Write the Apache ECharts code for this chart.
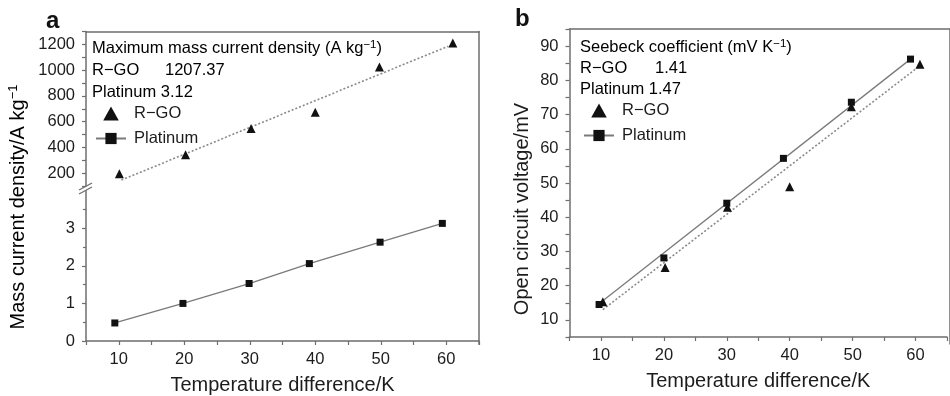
<!DOCTYPE html>
<html>
<head>
<meta charset="utf-8">
<script src="https://cdn.jsdelivr.net/npm/echarts@6/dist/echarts.min.js"></script>
<style>html,body{margin:0;padding:0;background:#fff}#c{width:950px;height:396px}</style>
</head>
<body>
<div id="c"></div>
<script>
// ---- data ----
const seriesNames = ['R−GO', 'Platinum'];
// panel a: mass current density
const aRgoX = [10.1, 20.2, 30.2, 40.0, 49.8, 61.0];
const aRgoY = [195, 343, 547, 672, 1024, 1210];
const aRgoFitX = [10.4, 60.3];
const aRgoFitY = [146, 1186];
const aPtX = [9.4, 19.8, 29.9, 39.1, 49.9, 59.4];
const aPtY = [0.48, 1.00, 1.53, 2.06, 2.63, 3.13];
// panel b: open circuit voltage
const bRgoX = [10.3, 20.2, 30.1, 40.0, 49.8, 60.7];
const bRgoY = [15.3, 25.3, 42.9, 48.9, 72.3, 84.7];
const bRgoFitX = [10.3, 60.5];
const bRgoFitY = [13.0, 84.0];
const bPtX = [9.7, 20.0, 30.0, 39.0, 49.8, 59.2];
const bPtY = [14.5, 28.1, 44.1, 57.2, 73.6, 86.2];
const bPtFitX = [9.9, 59.2];
const bPtFitY = [15.0, 86.2];
// annotation values
const aHeader = 'Maximum mass current density (A kg';
const aValues = [['R−GO', '1207.37'], ['Platinum', '3.12']];
const bHeader = 'Seebeck coefficient (mV K';
const bValues = [['R−GO', '1.41'], ['Platinum', '1.47']];
// axes
const xLabelTicks = [10, 20, 30, 40, 50, 60];
const aUpperLabels = [200, 400, 600, 800, 1000, 1200];
const aLowerLabels = [0, 1, 2, 3];
const bYLabels = [10, 20, 30, 40, 50, 60, 70, 80, 90];

const zip = (xs, ys) => xs.map((x, i) => [x, ys[i]]);

const FONT = 'Liberation Sans, Arial, sans-serif';
const AXC = '#6e6e6e';
const TXT = '#1c1c1c';
const MK = '#111';
const TRI = 'path://M5,0 L10,9 L0,9 Z';

const chart = echarts.init(document.getElementById('c'), null, {renderer: 'canvas'});

const axisLineStyle = {show: true, onZero: false, lineStyle: {color: AXC, width: 1.5}};
const tickStyle = {show: true, inside: false, length: 4, lineStyle: {color: AXC, width: 1.2}};
const labelStyle = {color: TXT, fontSize: 16.5, fontFamily: FONT};
const markStyle = {color: MK, opacity: 1};

const sup = {fontSize: 11.5, verticalAlign: 'top', fontFamily: FONT, color: TXT, lineHeight: 18};
const main = {fontSize: 16.5, fontFamily: FONT, color: TXT, lineHeight: 18};

function frameX(grid) {
  return {gridIndex: grid, type: 'value', position: 'top', min: 0, max: 1,
    axisLine: axisLineStyle, axisTick: {show: false}, axisLabel: {show: false}, splitLine: {show: false}};
}
function frameY(grid) {
  return {gridIndex: grid, type: 'value', position: 'right', min: 0, max: 1,
    axisLine: axisLineStyle, axisTick: {show: false}, axisLabel: {show: false}, splitLine: {show: false}};
}
const legendData = [{name: seriesNames[0], icon: TRI, itemStyle: {color: MK, opacity: 1}}, {name: seriesNames[1]}];

const option = {
  backgroundColor: '#fff',
  animation: false,
  grid: [
    {left: 86, top: 31.5, width: 393, height: 312.8},   // a frame
    {left: 86, top: 31.5, width: 393, height: 154.5},   // a upper
    {left: 86, top: 190.7, width: 393, height: 153.6},  // a lower
    {left: 569.5, top: 29, width: 391, height: 315},    // b
    {left: 569.5, top: 29, width: 391, height: 315}     // b frame
  ],
  xAxis: [
    frameX(0),
    {gridIndex: 1, type: 'value', min: 5, max: 65, interval: 5,
      axisLine: {show: false}, axisTick: {show: false}, axisLabel: {show: false}, splitLine: {show: false}},
    {gridIndex: 2, type: 'value', min: 5, max: 65, interval: 5,
      axisLine: axisLineStyle, axisTick: tickStyle,
      axisLabel: Object.assign({margin: 10, formatter: v => xLabelTicks.includes(v) ? String(v) : ''}, labelStyle),
      splitLine: {show: false},
      name: 'Temperature difference/K', nameLocation: 'middle', nameGap: 34,
      nameTextStyle: {fontSize: 20, fontFamily: FONT, color: TXT}},
    {gridIndex: 3, type: 'value', min: 5, max: 65, interval: 5,
      axisLine: axisLineStyle, axisTick: tickStyle,
      axisLabel: Object.assign({margin: 10, formatter: v => xLabelTicks.includes(v) ? String(v) : ''}, labelStyle),
      splitLine: {show: false},
      name: 'Temperature difference/K', nameLocation: 'middle', nameGap: 34,
      nameTextStyle: {fontSize: 20, fontFamily: FONT, color: TXT}},
    frameX(4)
  ],
  yAxis: [
    frameY(0),
    {gridIndex: 1, type: 'value', min: 100, max: 1300, interval: 100,
      axisLine: axisLineStyle, axisTick: tickStyle,
      axisLabel: Object.assign({margin: 11, formatter: v => aUpperLabels.includes(v) ? String(v) : ''}, labelStyle),
      splitLine: {show: false}},
    {gridIndex: 2, type: 'value', min: 0, max: 4, interval: 1,
      axisLine: axisLineStyle,
      axisTick: Object.assign({customValues: aLowerLabels}, tickStyle),
      minorTick: {show: true, splitNumber: 2, length: 3, lineStyle: {color: AXC, width: 1.2}},
      axisLabel: Object.assign({margin: 11, customValues: aLowerLabels}, labelStyle),
      splitLine: {show: false}},
    {gridIndex: 3, type: 'value', min: 5, max: 95, interval: 5,
      axisLine: axisLineStyle, axisTick: tickStyle,
      axisLabel: Object.assign({margin: 11, formatter: v => bYLabels.includes(v) ? String(v) : ''}, labelStyle),
      splitLine: {show: false}},
    frameY(4)
  ],
  legend: [
    {left: 95, top: 105, orient: 'vertical', padding: 0, itemWidth: 30, itemHeight: 14, itemGap: 8,
      data: legendData, selectedMode: false, symbolKeepAspect: true,
      textStyle: {fontSize: 16.5, fontFamily: FONT, color: TXT, padding: [0, 0, 0, 3]}},
    {left: 583, top: 102, orient: 'vertical', padding: 0, itemWidth: 30, itemHeight: 14, itemGap: 8,
      data: legendData, selectedMode: false, symbolKeepAspect: true,
      textStyle: {fontSize: 16.5, fontFamily: FONT, color: TXT, padding: [0, 0, 0, 3]}}
  ],
  series: [
    {name: seriesNames[0], type: 'scatter', xAxisIndex: 1, yAxisIndex: 1,
      symbol: 'triangle', symbolSize: 9, itemStyle: markStyle, data: zip(aRgoX, aRgoY), z: 5},
    {name: seriesNames[1], type: 'line', xAxisIndex: 2, yAxisIndex: 2,
      symbol: 'rect', symbolSize: 7, showSymbol: true,
      itemStyle: markStyle, lineStyle: {color: '#7a7a7a', width: 1.3},
      data: zip(aPtX, aPtY), z: 5},
    {type: 'line', xAxisIndex: 1, yAxisIndex: 1, symbol: 'none', silent: true,
      lineStyle: {color: '#8a8a8a', width: 1.6, type: [2, 2]}, data: zip(aRgoFitX, aRgoFitY), z: 3},
    {name: seriesNames[0], type: 'scatter', xAxisIndex: 3, yAxisIndex: 3,
      symbol: 'triangle', symbolSize: 9, itemStyle: markStyle, data: zip(bRgoX, bRgoY), z: 5},
    {name: seriesNames[1], type: 'scatter', xAxisIndex: 3, yAxisIndex: 3,
      symbol: 'rect', symbolSize: 7, itemStyle: markStyle, data: zip(bPtX, bPtY), z: 5},
    {type: 'line', xAxisIndex: 3, yAxisIndex: 3, symbol: 'none', silent: true,
      lineStyle: {color: '#7a7a7a', width: 1.3}, data: zip(bPtFitX, bPtFitY), z: 3},
    {type: 'line', xAxisIndex: 3, yAxisIndex: 3, symbol: 'none', silent: true,
      lineStyle: {color: '#8a8a8a', width: 1.6, type: [2, 2]}, data: zip(bRgoFitX, bRgoFitY), z: 3}
  ],
  graphic: [
    {type: 'text', left: 46, top: 9, style: {text: 'a', fontSize: 24, fontWeight: 'bold', fontFamily: FONT, fill: '#111'}},
    {type: 'text', left: 515, top: 7, style: {text: 'b', fontSize: 24, fontWeight: 'bold', fontFamily: FONT, fill: '#111'}},
    // break marks on the left axis of panel a
    {type: 'line', shape: {x1: 79, y1: 190, x2: 92, y2: 183}, style: {stroke: AXC, lineWidth: 1.3}},
    {type: 'line', shape: {x1: 79, y1: 194, x2: 92, y2: 187}, style: {stroke: AXC, lineWidth: 1.3}},
    // y axis titles
    {type: 'text', x: 18, y: 207, rotation: Math.PI / 2,
      style: {text: '{m|Mass current density/A kg}{s|−1}', align: 'center', verticalAlign: 'middle',
        rich: {m: {fontSize: 20, fontFamily: FONT, color: TXT, lineHeight: 22}, s: {fontSize: 13, fontFamily: FONT, color: TXT, verticalAlign: 'top', lineHeight: 22}}}},
    {type: 'text', x: 522, y: 209, rotation: Math.PI / 2,
      style: {text: 'Open circuit voltage/mV', align: 'center', verticalAlign: 'middle', fontSize: 20, fontFamily: FONT, fill: TXT}},
    // annotations panel a
    {type: 'text', x: 92, y: 48, style: {text: '{m|' + aHeader + '}{s|−1}{m|)}', verticalAlign: 'middle', rich: {m: main, s: sup}}},
    {type: 'text', x: 92, y: 70, style: {text: '{n|' + aValues[0][0] + '}{m|' + aValues[0][1] + '}', verticalAlign: 'middle', rich: {n: Object.assign({width: 73}, main), m: main}}},
    {type: 'text', x: 92, y: 92, style: {text: '{m|' + aValues[1][0] + ' ' + aValues[1][1] + '}', verticalAlign: 'middle', rich: {m: main}}},
    // annotations panel b
    {type: 'text', x: 580, y: 47, style: {text: '{m|' + bHeader + '}{s|−1}{m|)}', verticalAlign: 'middle', rich: {m: main, s: sup}}},
    {type: 'text', x: 580, y: 68, style: {text: '{n|' + bValues[0][0] + '}{m|' + bValues[0][1] + '}', verticalAlign: 'middle', rich: {n: Object.assign({width: 75}, main), m: main}}},
    {type: 'text', x: 580, y: 89, style: {text: '{m|' + bValues[1][0] + ' ' + bValues[1][1] + '}', verticalAlign: 'middle', rich: {m: main}}}
  ]
};
chart.setOption(option);
</script>
</body>
</html>
